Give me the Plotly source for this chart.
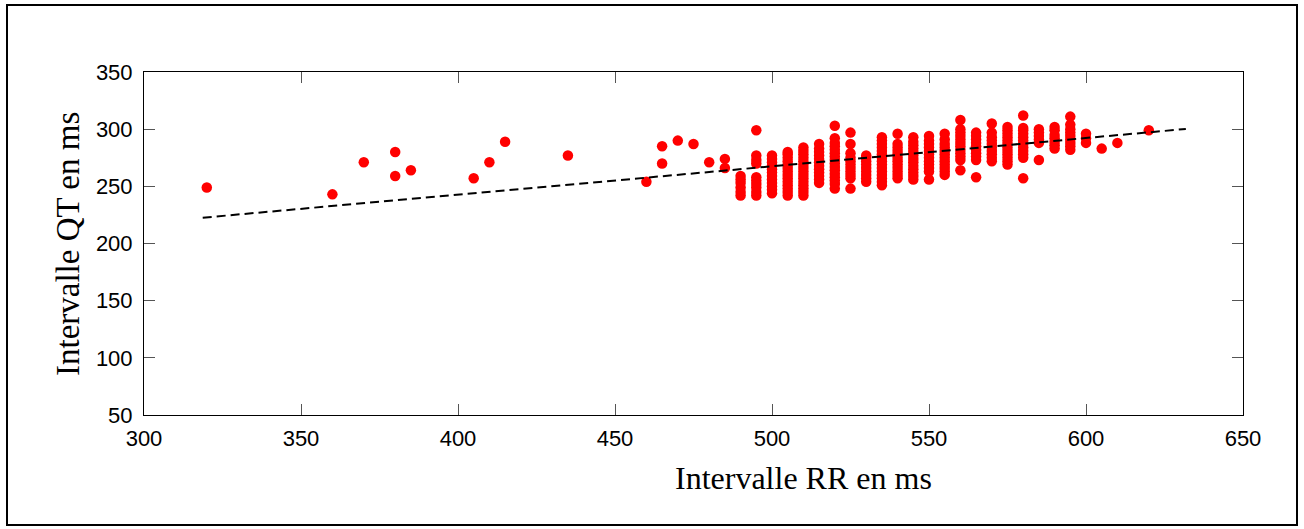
import plotly.graph_objects as go

# RR / QT pairs, one line per RR value
rr_ms = (
    [320, 360, 370, 380, 380, 385, 405, 410, 415, 435, 460, 465, 465, 470, 475, 480, 485, 485]
    + [490] * 6 + [495] * 10 + [500] * 12 + [505] * 14 + [510] * 15 + [515] * 12
    + [520] * 16 + [525] * 11 + [530] * 9 + [535] * 15 + [540] * 12 + [545] * 13
    + [550] * 12 + [555] * 12 + [560] * 12 + [565] * 10 + [570] * 10 + [575] * 12
    + [580] * 12 + [585] * 6 + [590] * 7 + [595] * 9 + [600] * 3 + [605, 610, 620]
)
qt_ms = (
    [249, 243, 271, 280, 259, 264, 257, 271, 289, 277, 254, 285, 270, 290, 287, 271, 274, 266]
    + [242, 245, 249, 253, 256, 259]
    + [242, 245, 249, 252, 255, 258, 270, 273, 277, 299]
    + [244, 247, 250, 253, 256, 259, 262, 265, 268, 271, 274, 277]
    + [242, 245, 248, 251, 254, 257, 260, 263, 266, 269, 272, 275, 278, 280]
    + [242, 245, 248, 251, 254, 257, 260, 263, 266, 269, 272, 275, 278, 281, 284]
    + [253, 256, 259, 262, 265, 268, 271, 274, 277, 280, 283, 287]
    + [248, 252, 255, 258, 261, 264, 267, 270, 273, 276, 279, 282, 285, 288, 292, 303]
    + [248, 257, 260, 263, 266, 269, 272, 275, 279, 287, 297]
    + [254, 257, 260, 263, 266, 269, 272, 275, 277]
    + [251, 254, 257, 260, 263, 266, 269, 272, 275, 278, 281, 284, 287, 290, 293]
    + [257, 260, 263, 266, 269, 272, 275, 278, 281, 284, 287, 296]
    + [256, 259, 262, 265, 268, 271, 274, 277, 280, 283, 286, 289, 293]
    + [256, 263, 266, 269, 272, 275, 278, 281, 284, 287, 290, 294]
    + [260, 263, 266, 269, 272, 275, 278, 281, 284, 287, 291, 296]
    + [264, 273, 276, 279, 282, 285, 288, 291, 294, 297, 300, 308]
    + [258, 273, 276, 279, 282, 285, 288, 291, 294, 297]
    + [272, 275, 278, 281, 284, 287, 290, 293, 297, 305]
    + [269, 272, 275, 278, 281, 284, 287, 290, 293, 296, 299, 302]
    + [257, 275, 278, 281, 284, 287, 290, 293, 296, 299, 301, 312]
    + [273, 288, 291, 294, 297, 300]
    + [283, 286, 289, 292, 295, 299, 302]
    + [282, 285, 288, 291, 294, 297, 300, 304, 311]
    + [288, 292, 296]
    + [283, 288, 299]
)

# linear fit QT = a + b * RR, drawn over the range below
fit_a = 143.6
fit_b = 0.2478
fit_rr = [318.7, 631.8]
fit_qt = [fit_a + fit_b * r for r in fit_rr]

x_ticks = [300, 350, 400, 450, 500, 550, 600, 650]
y_ticks = [50, 100, 150, 200, 250, 300, 350]

W, H = 1304, 529
L, R, T, B = 144, 61, 72, 114
pw, ph = W - L - R, H - T - B

def px_x(p):
    return (p - L) / pw

def px_y(p):
    return (H - B - p) / ph

serif = "Times New Roman, Liberation Serif, serif"
sans = "Arial, Liberation Sans, sans-serif"

fig = go.Figure()
fig.add_trace(go.Scatter(
    x=rr_ms, y=qt_ms, mode="markers",
    marker=dict(color="#ff0000", size=10.5, line=dict(width=0)),
    showlegend=False,
))
fig.add_trace(go.Scatter(
    x=fit_rr, y=fit_qt, mode="lines",
    line=dict(color="black", width=2, dash="9px,5px"),
    showlegend=False,
))

axis_style = dict(
    showgrid=False, zeroline=False, showline=True, linecolor="black", linewidth=1,
    mirror="ticks", ticks="inside", ticklen=11, tickcolor="#555555", tickwidth=1,
    tickfont=dict(family=sans, size=22, color="black"),
)
fig.update_xaxes(range=[300, 650], tickvals=x_ticks, ticklabelstandoff=4, **axis_style)
fig.update_yaxes(range=[50, 350], tickvals=y_ticks, ticklabelstandoff=6, **axis_style)

fig.add_annotation(
    text="Intervalle RR en ms", xref="paper", yref="paper",
    x=px_x(803), y=px_y(478), xanchor="center", yanchor="middle",
    showarrow=False, font=dict(family=serif, size=32, color="black"),
)
fig.add_annotation(
    text="Intervalle QT en ms", xref="paper", yref="paper",
    x=px_x(68), y=px_y(244), xanchor="center", yanchor="middle", textangle=-90,
    showarrow=False, font=dict(family=serif, size=33, color="black"),
)

# outer frame around the whole figure
fig.add_shape(
    type="rect", xref="paper", yref="paper",
    x0=px_x(7), x1=px_x(1297), y0=px_y(525), y1=px_y(5),
    line=dict(color="black", width=2), fillcolor="rgba(0,0,0,0)",
)

fig.update_layout(
    width=W, height=H,
    margin=dict(l=L, r=R, t=T, b=B),
    plot_bgcolor="white", paper_bgcolor="white",
)
fig.write_html(
    "out.html",
    config={"displayModeBar": False},
    post_script="document.body.style.margin='0';document.body.style.overflow='hidden';",
)
